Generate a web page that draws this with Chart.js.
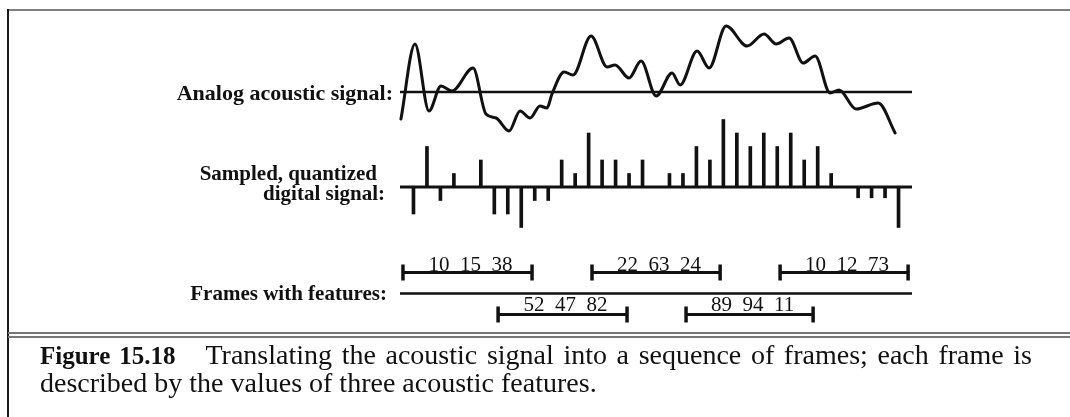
<!DOCTYPE html>
<html>
<head>
<meta charset="utf-8">
<script src="https://cdn.jsdelivr.net/npm/chart.js@4"></script>
<style>
  html, body { margin: 0; padding: 0; background: #fff; }
  #wrap { position: relative; width: 1070px; height: 417px; overflow: hidden; background: #fff; }
  #c { position: absolute; left: 0; top: 0; }
  .lbl { position: absolute; font: bold 21px "Liberation Serif", "Times New Roman", serif; line-height: 21px; white-space: nowrap; color: #111; text-align: right; }
  .rule { position: absolute; }
  .cap { position: absolute; left: 40px; width: 992px; font: 28px "Liberation Serif", "Times New Roman", serif; line-height: 28px; color: #111; white-space: nowrap; }
  .cap1 { text-align: justify; text-align-last: justify; white-space: normal; }
  .cap1 b { font-size: 25px; }
</style>
</head>
<body>
<div id="wrap">
  <canvas id="c" width="1070" height="417"></canvas>
  <div class="rule" style="left:8px;top:9px;width:1062px;height:2px;background:#808080;"></div>
  <div class="rule" style="left:7px;top:9px;width:2px;height:408px;background:#1a1a1a;"></div>
  <div class="rule" style="left:8px;top:332px;width:1062px;height:2px;background:#777;"></div>
  <div class="rule" style="left:8px;top:336px;width:1062px;height:2px;background:#777;"></div>

  <div class="lbl" style="right:677px;top:82px;font-size:22px;">Analog acoustic signal:</div>
  <div class="lbl" style="right:693px;top:163px;">Sampled, quantized</div>
  <div class="lbl" style="right:685px;top:183px;">digital signal:</div>
  <div class="lbl" style="right:683px;top:283px;">Frames with features:</div>

  <div class="cap cap1" style="top:341px;"><b>Figure 15.18</b><span style="display:inline-block;width:30px;"></span>Translating the acoustic signal into a sequence of frames; each frame is</div>
  <div class="cap" style="top:369px;">described by the values of three acoustic features.</div>
</div>
<script>
// ---- data (x in sample-index units) ----
const timeRange = [-1, 37];               // extent of the time axis / baselines
const analogT   = [-0.93, 0.11, 1.15, 2.04, 2.86, 4.42, 5.38, 6.13, 7.09, 7.91, 8.65,
                   9.39, 9.91, 10.28, 11.18, 11.84, 13.18, 14.37, 14.96, 16.00, 16.89, 18.01,
                   19.19, 19.79, 21.05, 21.94, 23.20, 24.76, 26.02, 26.92, 27.88, 28.92, 29.81,
                   30.92, 31.59, 32.85, 34.49, 35.75];
const analogAmp = [-27, 48, -19, 6, 1, 24, -22, -26, -39, -19, -26,
                   -14, -16, -2, 20, 17, 56, 25, 27, 14, 31, -4,
                   19, 7, 41, 24, 66, 46, 58, 48, 54, 29, 36,
                   -1, 2, -17, -11, -41];
const sampleIndex = Array.from({length: 37}, (_, k) => k);
const sampleLevel = [-2, 3, -1, 1, 0, 2, -2, -2, -3, -1, -1, 2, 1, 4, 2, 2, 1, 2, 0,
                     1, 1, 3, 2, 5, 4, 3, 4, 3, 4, 2, 3, 1, 0, -0.8, -0.8, -0.8, -3];
const frameStart    = [-0.78, 6.28, 13.25, 20.23, 27.21];
const frameEnd      = [8.80, 15.85, 22.76, 29.66, 36.71];
const frameLane     = [1, -1, 1, -1, 1];
const frameFeatures = [[10, 15, 38], [52, 47, 82], [22, 63, 24], [89, 94, 11], [10, 12, 73]];

const INK = '#111';

const datasets = [];
// analog baseline and curve
datasets.push({ type: 'line', yAxisID: 'yA', data: timeRange.map(t => ({x: t, y: 0})),
  borderColor: INK, borderWidth: 2.5, pointRadius: 0, clip: false });
datasets.push({ type: 'line', yAxisID: 'yA', data: analogT.map((t, i) => ({x: t, y: analogAmp[i]})),
  borderColor: INK, borderWidth: 3, pointRadius: 0, cubicInterpolationMode: 'monotone', clip: false,
  borderCapStyle: 'round', borderJoinStyle: 'round' });
// digital baseline and stems
datasets.push({ type: 'line', yAxisID: 'yD', data: timeRange.map(t => ({x: t, y: 0})),
  borderColor: INK, borderWidth: 3, pointRadius: 0, clip: false });
datasets.push({ type: 'bar', yAxisID: 'yD', data: sampleIndex.map((k, i) => ({x: k, y: sampleLevel[i]})),
  backgroundColor: INK, borderWidth: 0, barThickness: 3, clip: false });
// frames axis line
datasets.push({ type: 'line', yAxisID: 'yF', data: timeRange.map(t => ({x: t, y: 0})),
  borderColor: INK, borderWidth: 2.5, pointRadius: 0, clip: false });
// frames
frameStart.forEach((s, i) => {
  datasets.push({ type: 'line', yAxisID: 'yF',
    data: [{x: s, y: frameLane[i]}, {x: frameEnd[i], y: frameLane[i]}],
    borderColor: INK, borderWidth: 3, pointStyle: 'line', pointRotation: 90,
    pointRadius: 8, pointBorderWidth: 3.5, pointBorderColor: INK, pointBackgroundColor: INK, clip: false });
});

const frameLabels = {
  id: 'frameLabels',
  afterDatasetsDraw(chart) {
    const {ctx, scales} = chart;
    ctx.save();
    ctx.font = '21px "Liberation Serif", "Times New Roman", serif';
    ctx.fillStyle = INK;
    ctx.textAlign = 'center';
    ctx.textBaseline = 'alphabetic';
    frameFeatures.forEach((f, i) => {
      const cx = scales.x.getPixelForValue((frameStart[i] + frameEnd[i]) / 2) + 3;
      const y = scales.yF.getPixelForValue(frameLane[i]) - (frameLane[i] > 0 ? 2 : 4);
      ctx.fillText(f.join('  '), cx, y);
    });
    ctx.restore();
  }
};

new Chart(document.getElementById('c'), {
  type: 'line',
  data: { datasets },
  options: {
    responsive: false, maintainAspectRatio: false, animation: false, devicePixelRatio: 1,
    layout: { autoPadding: false, padding: { left: 400, right: 158, top: 0, bottom: 0 } },
    plugins: { legend: { display: false }, tooltip: { enabled: false } },
    events: [],
    scales: {
      x:  { type: 'linear', offset: false, min: timeRange[0], max: timeRange[1], display: false },
      yA: { type: 'linear', position: 'left', min: 92 - 417, max: 92, display: false },
      yD: { type: 'linear', position: 'left', min: -(417 - 187) / 13.5, max: 187 / 13.5, display: false },
      yF: { type: 'linear', position: 'left', min: -(417 - 293.5) / 21, max: 293.5 / 21, display: false }
    }
  },
  plugins: [frameLabels]
});
</script>
</body>
</html>
